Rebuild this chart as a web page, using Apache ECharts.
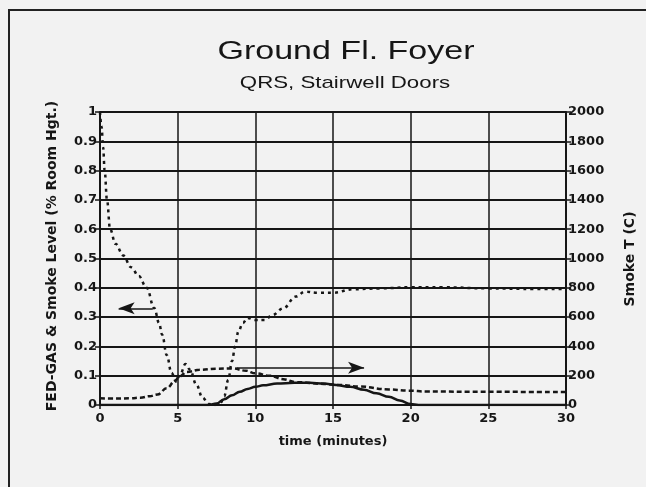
<!DOCTYPE html>
<html>
<head>
<meta charset="utf-8">
<script src="https://cdn.jsdelivr.net/npm/echarts@6/dist/echarts.min.js"></script>
<style>
  html, body { margin: 0; padding: 0; background: #f2f2f2; }
  #chart { width: 646px; height: 487px; }
</style>
</head>
<body>
<div id="chart"></div>
<script>
// Smoke layer height, fraction of room height (left axis)
const smokeLevelTime = [0, 0.1, 0.2, 0.3, 0.45, 0.65, 1.0, 1.5, 2.0, 2.5, 3.0, 3.5, 3.8, 4.0, 4.3, 4.6, 4.9, 5.2, 5.5, 5.8, 6.2, 6.6, 7.0, 7.4, 7.8, 8.0, 8.25, 8.5, 8.7, 8.9, 9.2, 9.5, 10.0, 10.6, 11.1, 11.8, 12.6, 13.2, 14.0, 15.0, 16.3, 18.0, 20.0, 22.0, 25.0, 28.0, 30.0];
const smokeLevel     = [1.0, 0.95, 0.88, 0.8, 0.7, 0.6, 0.55, 0.51, 0.47, 0.44, 0.40, 0.33, 0.28, 0.24, 0.17, 0.11, 0.08, 0.11, 0.14, 0.12, 0.07, 0.025, 0.003, 0.0, 0.01, 0.03, 0.085, 0.15, 0.2, 0.25, 0.28, 0.297, 0.29, 0.29, 0.307, 0.33, 0.37, 0.387, 0.383, 0.383, 0.395, 0.398, 0.402, 0.402, 0.398, 0.396, 0.396];

// Smoke temperature, deg C (right axis)
const smokeTempTime = [0, 1, 2, 2.6, 3.2, 3.7, 4.3, 4.8, 5.1, 5.6, 6.4, 7.5, 8.5, 9.4, 10.0, 10.9, 11.8, 12.6, 14.4, 15.5, 16.7, 18.6, 19.9, 21, 25, 30];
const smokeTemp     = [46, 44, 46, 50, 60, 72, 114, 160, 194, 226, 240, 248, 250, 234, 216, 200, 176, 156, 144, 136, 126, 106, 98, 92, 90, 88];

// FED for gases (left axis)
const fedGasTime = [0, 7.0, 7.5, 8.0, 8.5, 9.0, 9.5, 10.0, 10.5, 11.4, 12.5, 13.5, 14.4, 15.2, 16.1, 17.0, 17.8, 18.6, 19.3, 20.0, 20.5, 30];
const fedGas     = [0, 0, 0.005, 0.02, 0.033, 0.045, 0.055, 0.062, 0.067, 0.073, 0.076, 0.076, 0.073, 0.068, 0.062, 0.052, 0.04, 0.028, 0.015, 0.003, 0, 0];

// Axis ticks
const timeTicks = { min: 0, max: 30, step: 5 };
const levelTicks = { min: 0, max: 1, step: 0.1 };
const tempTicks = { min: 0, max: 2000, step: 200 };

// Arrows that point each curve to its axis
const levelArrow = { from: 3.4, to: 1.2, value: 0.33 };
const tempArrow = { from: 8.8, to: 17.0, value: 254 };

const zip = (xs, ys) => xs.map((x, i) => [x, ys[i]]);

const ink = '#161616';
const sans = '"Liberation Sans", Arial, sans-serif';
const wide = '"DejaVu Sans", sans-serif';

const chart = echarts.init(document.getElementById('chart'), null, { renderer: 'canvas' });

chart.setOption({
  animation: false,
  backgroundColor: '#f2f2f2',
  graphic: [
    {
      type: 'rect',
      shape: { x: 9, y: 10, width: 700, height: 520 },
      style: { fill: 'none', stroke: '#222', lineWidth: 2 },
      silent: true
    },
    {
      type: 'text',
      x: 346, y: 52, scaleX: 1.36,
      style: {
        text: 'Ground Fl. Foyer', font: '25px ' + sans, fill: ink,
        textAlign: 'center', textVerticalAlign: 'middle'
      }
    },
    {
      type: 'text',
      x: 345, y: 83, scaleX: 1.31,
      style: {
        text: 'QRS, Stairwell Doors', font: '17px ' + sans, fill: ink,
        textAlign: 'center', textVerticalAlign: 'middle'
      }
    },
    {
      type: 'text',
      x: 52, y: 256, rotation: Math.PI / 2,
      style: {
        text: 'FED-GAS & Smoke Level (% Room Hgt.)', font: 'bold 14px ' + wide, fill: ink,
        textAlign: 'center', textVerticalAlign: 'middle'
      }
    },
    {
      type: 'text',
      x: 630, y: 259, rotation: Math.PI / 2,
      style: {
        text: 'Smoke T (C)', font: 'bold 14px ' + wide, fill: ink,
        textAlign: 'center', textVerticalAlign: 'middle'
      }
    }
  ],
  grid: { left: 100, right: 80, top: 112, bottom: 82, containLabel: false },
  xAxis: {
    type: 'value',
    min: timeTicks.min, max: timeTicks.max, interval: timeTicks.step,
    name: 'time (minutes)', nameLocation: 'middle', nameGap: 30,
    nameTextStyle: { fontFamily: wide, fontSize: 13, fontWeight: 'bold', color: ink },
    axisLine: { lineStyle: { color: ink, width: 2 } },
    axisTick: { show: true, length: 4, lineStyle: { color: ink, width: 1.5 } },
    axisLabel: { fontFamily: wide, fontSize: 13, fontWeight: 'bold', color: ink, margin: 7 },
    splitLine: { show: true, lineStyle: { color: ink, width: 1.5 } }
  },
  yAxis: [
    {
      type: 'value',
      min: levelTicks.min, max: levelTicks.max, interval: levelTicks.step,
      axisLine: { show: true, lineStyle: { color: ink, width: 2 } },
      axisTick: { show: true, length: 5, lineStyle: { color: ink, width: 1.5 } },
      axisLabel: { fontFamily: wide, fontSize: 13, fontWeight: 'bold', color: ink, margin: 3,
                   formatter: v => String(Math.round(v * 10) / 10) },
      splitLine: { show: true, lineStyle: { color: ink, width: 2 } }
    },
    {
      type: 'value',
      position: 'right',
      min: tempTicks.min, max: tempTicks.max, interval: tempTicks.step,
      axisLine: { show: true, lineStyle: { color: ink, width: 2 } },
      axisTick: { show: true, length: 5, lineStyle: { color: ink, width: 1.5 } },
      axisLabel: { fontFamily: wide, fontSize: 13, fontWeight: 'bold', color: ink, margin: 2,
                   formatter: v => String(v) },
      splitLine: { show: false }
    }
  ],
  series: [
    {
      name: 'FED-GAS',
      type: 'line',
      yAxisIndex: 0,
      data: zip(fedGasTime, fedGas),
      showSymbol: false,
      smooth: 0.4, smoothMonotone: 'x',
      lineStyle: { color: ink, width: 2.5, type: 'solid' },
      z: 4
    },
    {
      name: 'Smoke Level',
      type: 'line',
      yAxisIndex: 0,
      data: zip(smokeLevelTime, smokeLevel),
      showSymbol: false,
      smooth: 0.4, smoothMonotone: 'x',
      lineStyle: { color: ink, width: 2.5, type: [3, 4] },
      markLine: {
        silent: true,
        symbol: ['none', 'arrow'],
        symbolSize: [9, 16],
        label: { show: false },
        lineStyle: { color: ink, width: 1.5, type: 'solid' },
        data: [[
          { coord: [levelArrow.from, levelArrow.value] },
          { coord: [levelArrow.to, levelArrow.value] }
        ]]
      },
      z: 5
    },
    {
      name: 'Smoke T',
      type: 'line',
      yAxisIndex: 1,
      data: zip(smokeTempTime, smokeTemp),
      showSymbol: false,
      smooth: 0.4, smoothMonotone: 'x',
      lineStyle: { color: ink, width: 2.5, type: [5, 3] },
      markLine: {
        silent: true,
        symbol: ['none', 'arrow'],
        symbolSize: [9, 16],
        label: { show: false },
        lineStyle: { color: ink, width: 1.5, type: 'solid' },
        data: [[
          { coord: [tempArrow.from, tempArrow.value] },
          { coord: [tempArrow.to, tempArrow.value] }
        ]]
      },
      z: 5
    }
  ]
});
</script>
</body>
</html>
